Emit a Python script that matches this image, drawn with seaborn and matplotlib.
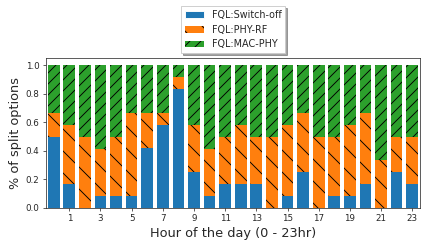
import numpy as np
import pandas as pd
import matplotlib.pyplot as plt
import seaborn as sns
from matplotlib.patches import Patch

sns.set_style("ticks")
plt.rcParams['font.family'] = ['DejaVu Sans']
plt.rcParams['hatch.color'] = 'black'

# share of split options per hour (12 samples per hour)
hours = list(range(24))
switch_off = [0.500, 0.167, 0.000, 0.083, 0.083, 0.083, 0.417, 0.583, 0.833, 0.250, 0.083, 0.167,
              0.167, 0.167, 0.000, 0.083, 0.250, 0.000, 0.083, 0.083, 0.167, 0.000, 0.250, 0.167]
phy_rf = [0.167, 0.417, 0.500, 0.333, 0.417, 0.583, 0.250, 0.083, 0.083, 0.333, 0.333, 0.333,
          0.417, 0.333, 0.500, 0.500, 0.417, 0.500, 0.417, 0.500, 0.500, 0.333, 0.250, 0.333]
mac_phy = [0.333, 0.417, 0.500, 0.583, 0.500, 0.333, 0.333, 0.333, 0.083, 0.417, 0.583, 0.500,
           0.417, 0.500, 0.500, 0.417, 0.333, 0.500, 0.500, 0.417, 0.333, 0.667, 0.500, 0.500]

df = pd.DataFrame({'hour': hours, 'switch_off': switch_off, 'phy_rf': phy_rf, 'mac_phy': mac_phy})
df['top_rf'] = df['switch_off'] + df['phy_rf']
df['top_mac'] = df['top_rf'] + df['mac_phy']

blue, orange, green = '#1f77b4', '#ff7f0e', '#2ca02c'

# small dpi so the hatch spacing matches the original
fig, ax = plt.subplots(figsize=(429 / 66, 247 / 66), dpi=66)

layers = [('top_mac', green, '//'), ('top_rf', orange, '\\'), ('switch_off', blue, None)]
for col, c, h in layers:
    n_before = len(ax.patches)
    sns.barplot(data=df, x='hour', y=col, color=c, saturation=1, width=0.75,
                edgecolor='black', linewidth=0, ax=ax)
    for p in ax.patches[n_before:]:
        if h:
            p.set_hatch(h)

ax.set_xticks(hours[1::2])
ax.set_xticklabels([str(h) for h in hours[1::2]])
ax.set_xlim(-0.5, 23.5)
ax.set_ylim(0, 1.05)
ax.set_yticks(np.arange(0, 1.01, 0.2))
ax.tick_params(labelsize=9.5)
ax.set_xlabel('Hour of the day (0 - 23hr)', fontsize=14)
ax.set_ylabel('% of split options', fontsize=14)

handles = [Patch(facecolor=blue, label='FQL:Switch-off'),
           Patch(facecolor=orange, edgecolor='black', linewidth=0, hatch='\\', label='FQL:PHY-RF'),
           Patch(facecolor=green, edgecolor='black', linewidth=0, hatch='//', label='FQL:MAC-PHY')]
ax.legend(handles=handles, loc='lower center', bbox_to_anchor=(0.5, 1.0),
          fontsize=10.5, shadow=True, fancybox=False, framealpha=1)

fig.subplots_adjust(left=0.107, right=0.979, bottom=0.158, top=0.765)
fig.savefig('out.png', dpi=66)
